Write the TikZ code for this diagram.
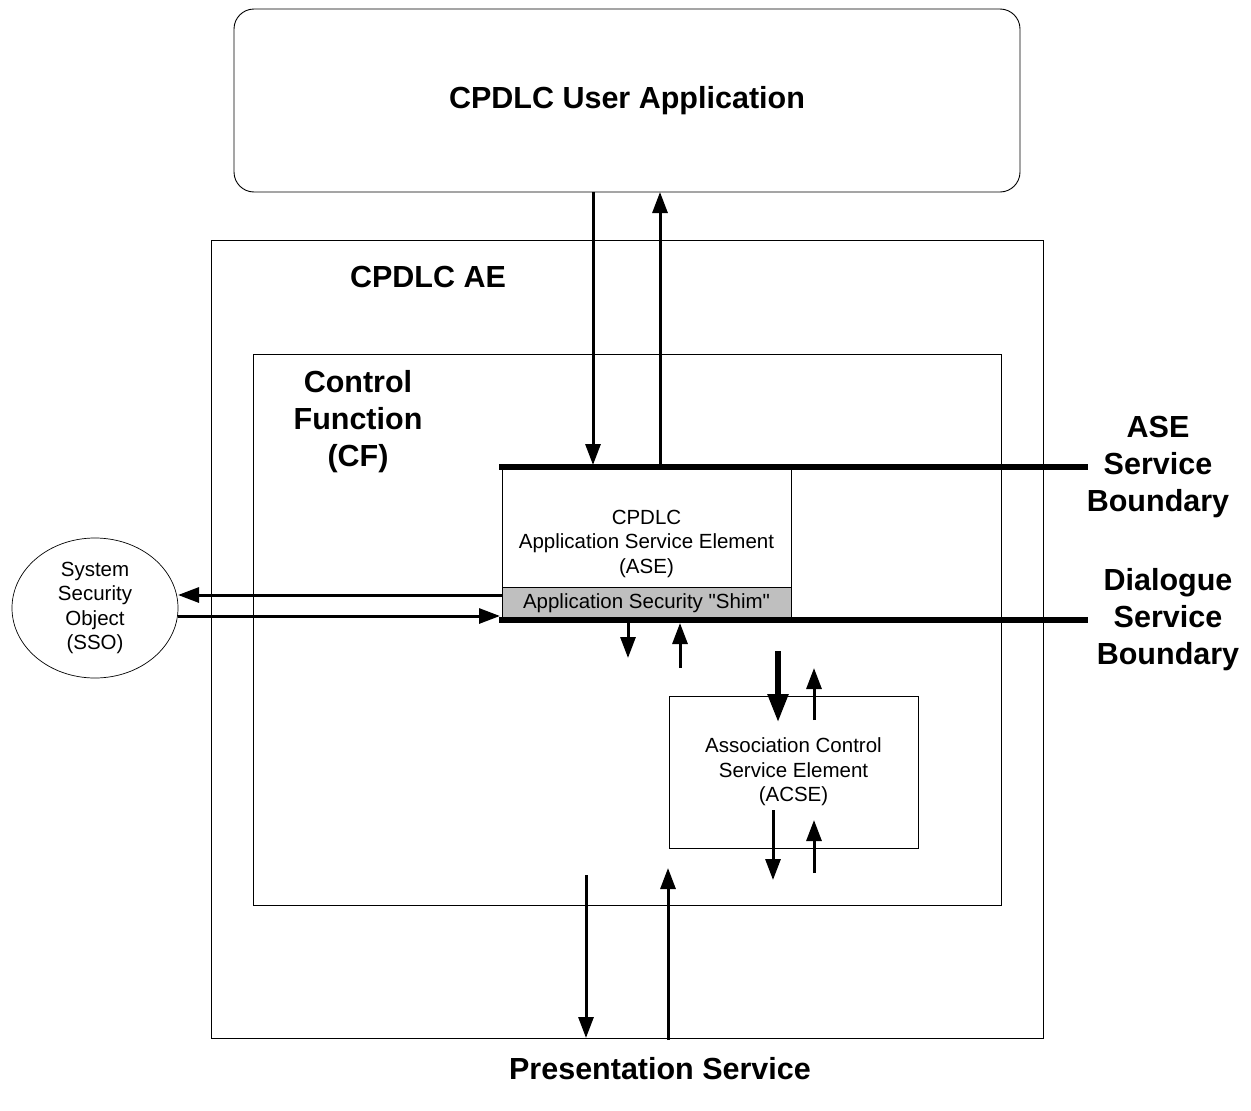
\documentclass[tikz,border=0pt]{standalone}
\usepackage{fontspec}
\setmainfont{Liberation Sans}
\newfontfamily\plainquotes{Liberation Sans}
\usetikzlibrary{arrows.meta, shapes.geometric, positioning}

\begin{document}
\begin{tikzpicture}[x=1pt, y=-1pt, outer sep=0pt]

\tikzstyle{box}=[rectangle, draw, line width=0.9pt, inner sep=0pt, align=center]
\tikzstyle{bigtext}=[font=\fontsize{30.5}{37}\selectfont\bfseries, align=center, inner sep=0pt]
\tikzstyle{smalltext}=[font=\fontsize{20.5}{24.5}\selectfont]
\tikzstyle{flow}=[line width=3pt, -{Triangle[length=21pt,width=15pt]}]
\tikzstyle{bigflow}=[line width=5.5pt, -{Triangle[length=28pt,width=20pt]}]
\tikzstyle{boundary}=[line width=6pt]

\useasboundingbox (0,0) rectangle (1251,1111);

% user application and the entity boxes
\node[box, rounded corners=20pt, minimum width=786, minimum height=183, bigtext, draw] (user) at (627,100.5) {CPDLC User Application};
\node[box, minimum width=832, minimum height=798] (ae) at (627,639) {};
\node[box, minimum width=748, minimum height=551] (cf) at (627,629.5) {};
\node[bigtext] (aelabel) at (428,277) {CPDLC AE};
\node[bigtext] (cflabel) at (358,422) {Control\\Function\\(CF)};

% service elements
\node[box, smalltext, fill=white, minimum width=289, minimum height=153] (ase) at (646.5,543.5) {CPDLC\\Application Service Element\\(ASE)};
\node[box, smalltext, fill=gray!50, minimum width=289, minimum height=33, anchor=south] (shim) at (ase.south) {\plainquotes Application Security "Shim"};
\node[box, smalltext, minimum width=249, minimum height=152] (acse) at (793.5,772) {Association Control\\Service Element\\(ACSE)};
\node[ellipse, draw, line width=0.7pt, smalltext, align=center, minimum width=166, minimum height=140, inner sep=0pt] (sso) at (95,608) {System\\Security\\Object\\(SSO)};

% boundaries
\coordinate (aseend) at (1088,467);
\coordinate (dlgend) at (1088,620);
\draw[boundary] ([shift={(-3,0)}]ase.north west) -- (aseend);
\draw[boundary] ([shift={(-3,0)}]shim.south west) -- (dlgend);
\node[bigtext] (aseboundary) at (1158,467) {ASE\\Service\\Boundary};
\node[bigtext] (dlgboundary) at (1168,620) {Dialogue\\Service\\Boundary};
\node[bigtext] (pres) at (660,1069) {Presentation Service};

% user application <-> ASE
\draw[flow] ([shift={(-34,0)}]user.south) -- ([shift={(-53.5,-2)}]ase.north);
\draw[flow] ([shift={(13.5,0)}]ase.north) -- ([shift={(33,0)}]user.south);

% shim <-> SSO
\draw[flow] ([shift={(0,-8.5)}]shim.west) -- ([shift={(0,-13)}]sso.east);
\draw[flow] ([shift={(0,8)}]sso.east) -- ([shift={(-2,12.5)}]shim.west);

% below the shim
\draw[flow] ([shift={(-18.5,3)}]shim.south) -- ([shift={(-18.5,38)}]shim.south);
\draw[flow] ([shift={(33.5,48)}]shim.south) -- ([shift={(33.5,3)}]shim.south);

% around the ACSE
\draw[bigflow] ([shift={(-15.5,-45)}]acse.north) -- ([shift={(-15.5,26)}]acse.north);
\draw[flow] ([shift={(20.5,24)}]acse.north) -- ([shift={(20.5,-28)}]acse.north);
\draw[flow] ([shift={(-20.5,-38)}]acse.south) -- ([shift={(-20.5,32)}]acse.south);
\draw[flow] ([shift={(20.5,25)}]acse.south) -- ([shift={(20.5,-28)}]acse.south);

% presentation service
\draw[flow] ([shift={(-41,-163)}]ae.south) -- (ae.south -| 586,0);
\draw[flow] ([shift={(41,2)}]ae.south) -- ([shift={(41,-170)}]ae.south);

\end{tikzpicture}
\end{document}
